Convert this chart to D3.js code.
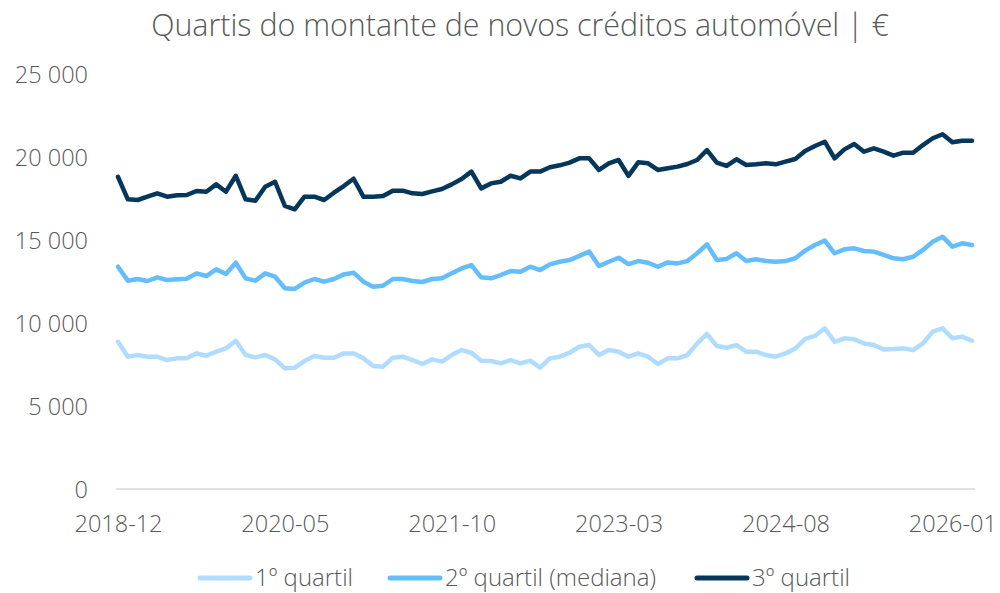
<!DOCTYPE html>
<html>
<head>
<meta charset="utf-8">
<script src="https://cdn.jsdelivr.net/npm/d3@7"></script>
<style>
  html, body { margin: 0; padding: 0; background: #fff; }
  svg { display: block; font-family: "Open Sans", sans-serif; font-weight: 300; }
</style>
</head>
<body>
<svg id="chart" width="1000" height="593"></svg>
<script>
const categories = [
  "2018-12",
  "2019-01","2019-02","2019-03","2019-04","2019-05","2019-06","2019-07","2019-08","2019-09","2019-10","2019-11","2019-12",
  "2020-01","2020-02","2020-03","2020-04","2020-05","2020-06","2020-07","2020-08","2020-09","2020-10","2020-11","2020-12",
  "2021-01","2021-02","2021-03","2021-04","2021-05","2021-06","2021-07","2021-08","2021-09","2021-10","2021-11","2021-12",
  "2022-01","2022-02","2022-03","2022-04","2022-05","2022-06","2022-07","2022-08","2022-09","2022-10","2022-11","2022-12",
  "2023-01","2023-02","2023-03","2023-04","2023-05","2023-06","2023-07","2023-08","2023-09","2023-10","2023-11","2023-12",
  "2024-01","2024-02","2024-03","2024-04","2024-05","2024-06","2024-07","2024-08","2024-09","2024-10","2024-11","2024-12",
  "2025-01","2025-02","2025-03","2025-04","2025-05","2025-06","2025-07","2025-08","2025-09","2025-10","2025-11","2025-12",
  "2026-01","2026-02","2026-03"
];

const q1 = [
  8870,7970,8070,7970,7970,7770,7870,7870,8170,8030,
  8270,8470,8930,8070,7930,8070,7810,7270,7310,7710,
  8010,7910,7910,8170,8170,7870,7410,7370,7910,7970,
  7770,7530,7810,7670,8070,8370,8210,7730,7710,7570,
  7770,7570,7730,7310,7870,7970,8210,8570,8670,8070,
  8370,8270,7970,8170,7970,7530,7870,7870,8070,8770,
  9340,8610,8510,8670,8270,8270,8070,7970,8170,8470,
  9040,9220,9680,8870,9080,9020,8770,8670,8410,8430,
  8470,8370,8770,9480,9680,9080,9180,8930
];

const q2 = [
  13390,12550,12650,12530,12750,12590,12630,12670,12990,12830,
  13230,12950,13630,12690,12550,12990,12790,12090,12050,12430,
  12650,12490,12650,12930,13030,12490,12190,12250,12650,12650,
  12530,12470,12650,12690,12990,13290,13490,12750,12690,12890,
  13130,13090,13390,13190,13530,13690,13790,14040,14300,13430,
  13690,13930,13550,13730,13630,13390,13650,13590,13730,14200,
  14740,13790,13860,14200,13730,13840,13730,13690,13730,13900,
  14360,14700,14960,14200,14440,14500,14340,14300,14100,13900,
  13840,13990,14400,14900,15200,14600,14800,14700
];

const q3 = [
  18800,17450,17410,17610,17810,17610,17690,17710,17950,17910,
  18350,17910,18870,17450,17370,18210,18510,17050,16850,17610,
  17610,17410,17850,18250,18690,17610,17610,17650,17970,17970,
  17810,17770,17930,18070,18350,18670,19120,18110,18410,18510,
  18870,18710,19120,19120,19380,19500,19660,19920,19920,19220,
  19620,19820,18860,19680,19620,19220,19320,19420,19580,19820,
  20420,19660,19460,19860,19520,19560,19620,19560,19720,19880,
  20360,20660,20920,19920,20460,20780,20320,20520,20320,20080,
  20260,20260,20720,21130,21370,20890,20980,20980
];

const xTickLabels = ["2018-12","2020-05","2021-10","2023-03","2024-08","2026-01"];
const yTickValues = [0, 5000, 10000, 15000, 20000, 25000];
const seriesNames = ["1º quartil", "2º quartil (mediana)", "3º quartil"];
const seriesColors = ["#b0ddff", "#64bdfd", "#05365b"];
const titleText = "Quartis do montante de novos créditos automóvel | €";

const svg = d3.select("#chart");
const textColor = "#595959";
const labelSize = "23.5px";

const x = d3.scalePoint().domain(categories).range([118, 972]);
const y = d3.scaleLinear().domain([0, 25000]).range([489, 74]);

const fmt = d3.formatLocale({decimal: ",", thousands: "\u00a0", grouping: [3], currency: ["", "€"]}).format(",d");

// Title
svg.append("text")
  .attr("x", 520).attr("y", 36)
  .attr("text-anchor", "middle")
  .attr("fill", textColor)
  .style("font-size", "30.4px")
  .text(titleText);

// Y axis
const yAxis = d3.axisLeft(y).tickValues(yTickValues).tickSize(0).tickPadding(0).tickFormat(fmt);
const yg = svg.append("g").attr("transform", "translate(88,0)").call(yAxis);
yg.select(".domain").remove();
yg.selectAll("text").attr("fill", textColor).style("font-size", labelSize)
  .style("font-family", "'Open Sans', sans-serif").style("font-weight", 300).attr("dy", "0.35em");

// Baseline
svg.append("line")
  .attr("x1", 116).attr("x2", 975)
  .attr("y1", y(0)).attr("y2", y(0))
  .attr("stroke", "#d9d9d9").attr("stroke-width", 1.5);

// X axis
const xAxis = d3.axisBottom(x).tickValues(xTickLabels).tickSize(0).tickPadding(0);
const xg = svg.append("g").attr("transform", "translate(0,524)").call(xAxis);
xg.select(".domain").remove();
xg.selectAll("text").attr("fill", textColor).style("font-size", labelSize)
  .style("font-family", "'Open Sans', sans-serif").style("font-weight", 300).attr("dy", "0.35em");

// Lines
const line = d3.line().x((d, i) => x(categories[i])).y(d => y(d));
[q1, q2, q3].forEach((s, k) => {
  svg.append("path")
    .datum(s)
    .attr("d", line)
    .attr("fill", "none")
    .attr("stroke", seriesColors[k])
    .attr("stroke-width", 4.5)
    .attr("stroke-linejoin", "round")
    .attr("stroke-linecap", "round");
});

// Legend
const legendX = [200, 390, 697];
const legendY = 578;
seriesNames.forEach((name, k) => {
  const g = svg.append("g").attr("transform", `translate(${legendX[k]},${legendY})`);
  g.append("line").attr("x1", 0).attr("x2", 50).attr("y1", 0).attr("y2", 0)
    .attr("stroke", seriesColors[k]).attr("stroke-width", 5).attr("stroke-linecap", "round");
  g.append("text").attr("x", 55).attr("y", 0).attr("dy", "0.35em")
    .attr("fill", textColor).style("font-size", "24px").text(name);
});
</script>
</body>
</html>
